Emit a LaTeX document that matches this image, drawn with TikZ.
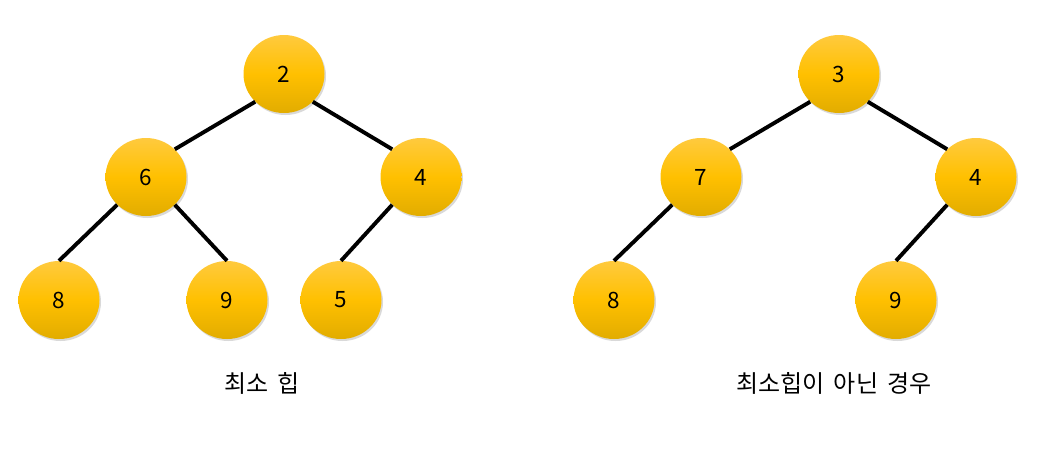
\documentclass[tikz,border=0pt]{standalone}
\usepackage{fontspec}
\setmainfont{Noto Sans CJK KR}
\usetikzlibrary{shapes.geometric,shadows}
\definecolor{ytop}{HTML}{FFCA3E}
\definecolor{ymid}{HTML}{FFC000}
\definecolor{ybot}{HTML}{E2AC00}
\tikzset{
  hnode/.style={ellipse, minimum width=81pt, minimum height=78pt, inner sep=0pt,
    top color=ytop, bottom color=ybot, middle color=ymid,
    drop shadow={shadow xshift=1.5pt, shadow yshift=-2pt, opacity=0.25, fill=black!60},
    font=\fontsize{22.5}{26}\selectfont},
  edgeline/.style={line width=3.9pt, black},
  captxt/.style={font=\fontsize{24}{28}\selectfont}
}
\begin{document}
\begin{tikzpicture}[x=1pt,y=-1pt]
\useasboundingbox (0,0) rectangle (1049,448);
% left tree
\node[hnode] (a2) at (284,74) {2};
\node[hnode] (a6) at (146,177) {6};
\node[hnode] (a4) at (421,177) {4};
\node[hnode] (a8) at (59,300) {8};
\node[hnode] (a9) at (227,300) {9};
\node[hnode] (a5) at (341,300) {5};
% right tree
\node[hnode] (b3) at (839,74) {3};
\node[hnode] (b7) at (701,177) {7};
\node[hnode] (b4) at (976,177) {4};
\node[hnode] (b8) at (614,300) {8};
\node[hnode] (b9) at (896,300) {9};
\draw[edgeline] (a2.south west) -- (a6.north east);
\draw[edgeline] (a2.south east) -- (a4.north west);
\draw[edgeline] (a6.south west) -- (a8.north);
\draw[edgeline] (a6.south east) -- (a9.north);
\draw[edgeline] (a4.south west) -- (a5.north);
\draw[edgeline] (b3.south west) -- (b7.north east);
\draw[edgeline] (b3.south east) -- (b4.north west);
\draw[edgeline] (b7.south west) -- (b8.north);
\draw[edgeline] (b4.south west) -- (b9.north);
\node[captxt] (l1) at (262,383) {최소\hspace{0.15em} 힙};
\node[captxt] (l2) at (834,383) {최소힙이\hspace{0.15em} 아닌\hspace{0.15em} 경우};
\end{tikzpicture}
\end{document}
